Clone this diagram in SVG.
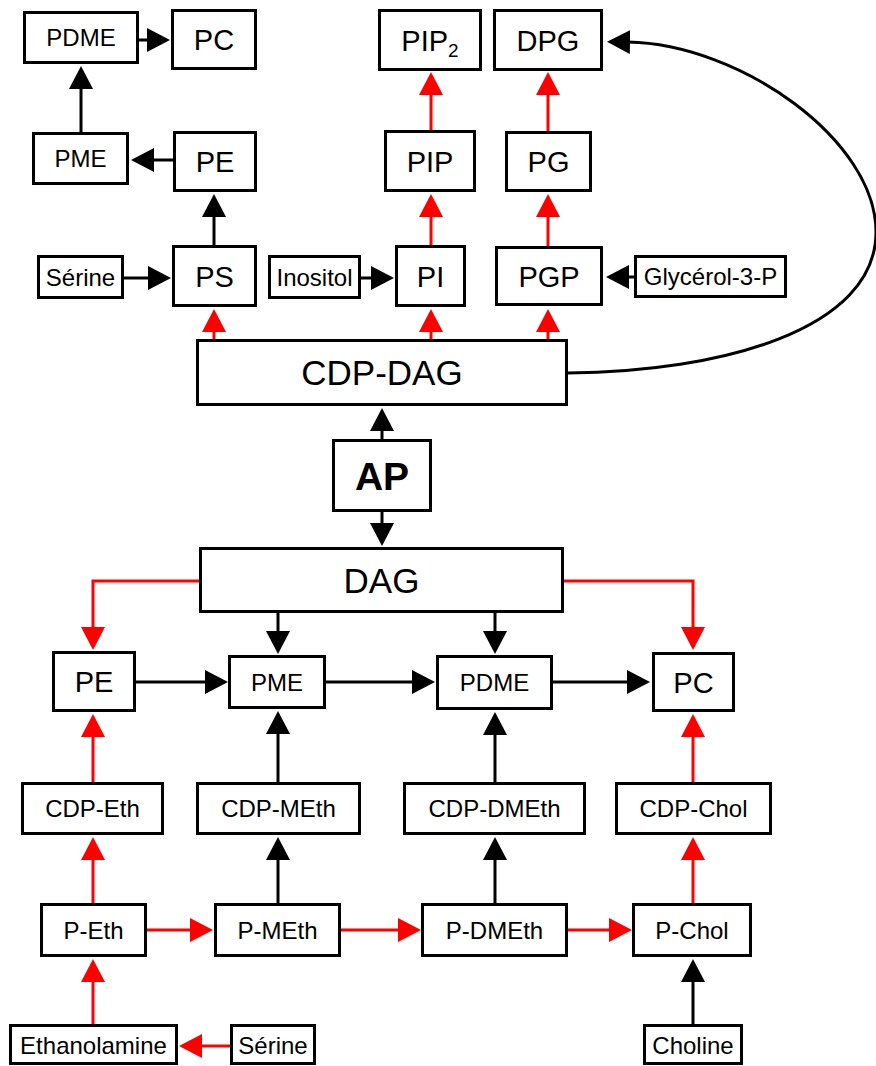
<svg xmlns="http://www.w3.org/2000/svg" width="876" height="1066" viewBox="0 0 876 1066">
<style>
.n rect{fill:#fff;stroke:#000;stroke-width:3}
.n text{font-family:"Liberation Sans",Arial,sans-serif;fill:#000;text-anchor:middle}
.s text{font-size:24px}
.b text{font-size:29px}
.L text{font-size:35px}
.k{stroke:#000;stroke-width:3;fill:none;marker-end:url(#hk)}
.r{stroke:#f00;stroke-width:3;fill:none;marker-end:url(#hr)}
</style>
<defs>
<marker id="hk" markerUnits="userSpaceOnUse" markerWidth="24" markerHeight="24" refX="2" refY="12" orient="auto"><path d="M0,0 L23,12 L0,24 z" fill="#000"/></marker>
<marker id="hr" markerUnits="userSpaceOnUse" markerWidth="24" markerHeight="24" refX="2" refY="12" orient="auto"><path d="M0,0 L23,12 L0,24 z" fill="#f00"/></marker>
</defs>
<rect width="876" height="1066" fill="#fff"/>
<g id="connectors">
<path class="k" d="M139,40 H149"/>
<path class="k" d="M81,132 V87"/>
<path class="k" d="M173,160 H152"/>
<path class="k" d="M214,245 V215"/>
<path class="k" d="M124,278 H150"/>
<path class="k" d="M361,278 H373"/>
<path class="k" d="M634,277 H627"/>
<path class="k" d="M382,439 V429"/>
<path class="k" d="M382,512 V525"/>
<path class="k" d="M278,613 V633"/>
<path class="k" d="M495,613 V633"/>
<path class="k" d="M136,682 H207"/>
<path class="k" d="M326,682 H414"/>
<path class="k" d="M553,682 H629"/>
<path class="k" d="M278,782 V732"/>
<path class="k" d="M495,782 V733"/>
<path class="k" d="M278,903 V858"/>
<path class="k" d="M495,903 V858"/>
<path class="k" d="M693,1024 V980"/>
<path class="k" d="M568,373 C720,372 876,330 876,232 C876,140 740,44 628,42"/>
<path class="r" d="M214,339 V330"/>
<path class="r" d="M431,339 V330"/>
<path class="r" d="M548,339 V330"/>
<path class="r" d="M431,245 V215"/>
<path class="r" d="M431,130 V93"/>
<path class="r" d="M548,246 V215"/>
<path class="r" d="M548,131 V93"/>
<path class="r" d="M199,581 H93 V629"/>
<path class="r" d="M564,581 H693 V629"/>
<path class="r" d="M93,782 V735"/>
<path class="r" d="M693,782 V735"/>
<path class="r" d="M93,903 V858"/>
<path class="r" d="M693,903 V858"/>
<path class="r" d="M147,930 H192"/>
<path class="r" d="M341,930 H400"/>
<path class="r" d="M568,930 H611"/>
<path class="r" d="M93,1024 V980"/>
<path class="r" d="M230,1046 H200"/>
</g>
<g id="PDME_top" class="n s"><rect x="24.5" y="12.5" width="113" height="50"/><text x="81" y="46">PDME</text></g>
<g id="PC_top" class="n b"><rect x="172.5" y="10.5" width="83" height="58"/><text x="214" y="50">PC</text></g>
<g id="PME_top" class="n s"><rect x="33.5" y="133.5" width="94" height="50"/><text x="80.5" y="167">PME</text></g>
<g id="PE_top" class="n b"><rect x="174.5" y="132.5" width="81" height="58"/><text x="215" y="172">PE</text></g>
<g id="PIP2" class="n b"><rect x="379.5" y="10.5" width="101" height="59"/><text x="430" y="51">PIP<tspan font-size="19" dy="6">2</tspan></text></g>
<g id="DPG" class="n b"><rect x="494.5" y="10.5" width="107" height="59"/><text x="548" y="51">DPG</text></g>
<g id="PIP" class="n b"><rect x="385.5" y="131.5" width="89" height="59"/><text x="430" y="172">PIP</text></g>
<g id="PG" class="n b"><rect x="506.5" y="132.5" width="84" height="58"/><text x="548.5" y="172">PG</text></g>
<g id="Serine_top" class="n s"><rect x="38.5" y="256.5" width="84" height="41"/><text x="80.5" y="286">Sérine</text></g>
<g id="PS" class="n b"><rect x="173.5" y="246.5" width="82" height="59"/><text x="214.5" y="287">PS</text></g>
<g id="Inositol" class="n s"><rect x="269.5" y="256.5" width="90" height="41"/><text x="314.5" y="286">Inositol</text></g>
<g id="PI" class="n b"><rect x="396.5" y="246.5" width="68" height="59"/><text x="430.5" y="287">PI</text></g>
<g id="PGP" class="n b"><rect x="496.5" y="247.5" width="105" height="57"/><text x="549" y="287">PGP</text></g>
<g id="Glycerol3P" class="n s"><rect x="635.5" y="256.5" width="150" height="40"/><text x="710.5" y="285">Glycérol-3-P</text></g>
<g id="CDP_DAG" class="n L"><rect x="197.5" y="340.5" width="369" height="64"/><text x="382" y="385">CDP-DAG</text></g>
<g id="AP" class="n"><rect x="333.5" y="440.5" width="97" height="70"/><text x="382" y="489.5" font-size="39" font-weight="bold">AP</text></g>
<g id="DAG" class="n L"><rect x="200.5" y="548.5" width="362" height="63"/><text x="381.5" y="592.5">DAG</text></g>
<g id="PE_bot" class="n b"><rect x="53.5" y="652.5" width="81" height="58"/><text x="94" y="692">PE</text></g>
<g id="PME_bot" class="n s"><rect x="229.5" y="656.5" width="95" height="51"/><text x="277" y="691">PME</text></g>
<g id="PDME_bot" class="n s"><rect x="437.5" y="656.5" width="114" height="52"/><text x="494.5" y="691">PDME</text></g>
<g id="PC_bot" class="n b"><rect x="653.5" y="653.5" width="80" height="57"/><text x="693.5" y="692.5">PC</text></g>
<g id="CDP_Eth" class="n s"><rect x="22.5" y="783.5" width="140" height="50"/><text x="92.5" y="817">CDP-Eth</text></g>
<g id="CDP_MEth" class="n s"><rect x="197.5" y="783.5" width="162" height="50"/><text x="278.5" y="817">CDP-MEth</text></g>
<g id="CDP_DMEth" class="n s"><rect x="404.5" y="783.5" width="180" height="50"/><text x="494.5" y="817">CDP-DMEth</text></g>
<g id="CDP_Chol" class="n s"><rect x="616.5" y="783.5" width="154" height="50"/><text x="693.5" y="817">CDP-Chol</text></g>
<g id="P_Eth" class="n s"><rect x="41.5" y="904.5" width="104" height="51"/><text x="93.5" y="939">P-Eth</text></g>
<g id="P_MEth" class="n s"><rect x="215.5" y="904.5" width="124" height="51"/><text x="277.5" y="939">P-MEth</text></g>
<g id="P_DMEth" class="n s"><rect x="422.5" y="904.5" width="144" height="51"/><text x="494.5" y="939">P-DMEth</text></g>
<g id="P_Chol" class="n s"><rect x="633.5" y="904.5" width="117" height="51"/><text x="692" y="939">P-Chol</text></g>
<g id="Ethanolamine" class="n s"><rect x="10.5" y="1025.5" width="166" height="38"/><text x="93.5" y="1054">Ethanolamine</text></g>
<g id="Serine_bot" class="n s"><rect x="231.5" y="1025.5" width="83" height="38"/><text x="273" y="1054">Sérine</text></g>
<g id="Choline" class="n s"><rect x="644.5" y="1025.5" width="97" height="38"/><text x="693" y="1054">Choline</text></g>
</svg>
